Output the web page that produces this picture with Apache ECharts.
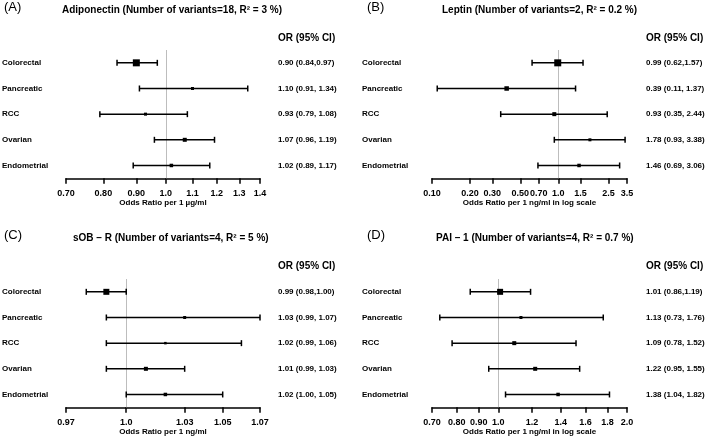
<!DOCTYPE html>
<html>
<head>
<meta charset="utf-8">
<script src="https://cdn.jsdelivr.net/npm/echarts@6/dist/echarts.min.js"></script>
<style>html,body{margin:0;padding:0;background:#fff}#c{width:709px;height:440px}</style>
</head>
<body>
<div id="c"></div>
<script>
// ---------- DATA ----------
const outcomes = ['Colorectal', 'Pancreatic', 'RCC', 'Ovarian', 'Endometrial'];

const adipoEst = [0.90, 1.10, 0.93, 1.07, 1.02];
const adipoLo  = [0.84, 0.91, 0.79, 0.96, 0.89];
const adipoHi  = [0.97, 1.34, 1.08, 1.19, 1.17];
const adipoText = ['0.90 (0.84,0.97)', '1.10 (0.91, 1.34)', '0.93 (0.79, 1.08)', '1.07 (0.96, 1.19)', '1.02 (0.89, 1.17)'];
const adipoTicks = [0.70, 0.80, 0.90, 1.0, 1.1, 1.2, 1.3, 1.4];
const adipoTickLabels = ['0.70', '0.80', '0.90', '1.0', '1.1', '1.2', '1.3', '1.4'];

const leptinEst = [0.99, 0.39, 0.93, 1.78, 1.46];
const leptinLo  = [0.62, 0.11, 0.35, 0.93, 0.69];
const leptinHi  = [1.57, 1.37, 2.44, 3.38, 3.06];
const leptinText = ['0.99 (0.62,1.57)', '0.39 (0.11, 1.37)', '0.93 (0.35, 2.44)', '1.78 (0.93, 3.38)', '1.46 (0.69, 3.06)'];
const leptinTicks = [0.10, 0.20, 0.30, 0.50, 0.70, 1.0, 1.5, 2.5, 3.5];
const leptinTickLabels = ['0.10', '0.20', '0.30', '0.50', '0.70', '1.0', '1.5', '2.5', '3.5'];

const sobrEst = [0.99, 1.03, 1.02, 1.01, 1.02];
const sobrLo  = [0.98, 0.99, 0.99, 0.99, 1.00];
const sobrHi  = [1.00, 1.07, 1.06, 1.03, 1.05];
const sobrText = ['0.99 (0.98,1.00)', '1.03 (0.99, 1.07)', '1.02 (0.99, 1.06)', '1.01 (0.99, 1.03)', '1.02 (1.00, 1.05)'];
const sobrTicks = [0.97, 1.0, 1.03, 1.05, 1.07];
const sobrTickLabels = ['0.97', '1.0', '1.03', '1.05', '1.07'];

const paiEst = [1.01, 1.13, 1.09, 1.22, 1.38];
const paiLo  = [0.86, 0.73, 0.78, 0.95, 1.04];
const paiHi  = [1.19, 1.76, 1.52, 1.55, 1.82];
const paiText = ['1.01 (0.86,1.19)', '1.13 (0.73, 1.76)', '1.09 (0.78, 1.52)', '1.22 (0.95, 1.55)', '1.38 (1.04, 1.82)'];
const paiTicks = [0.70, 0.80, 0.90, 1.0, 1.2, 1.4, 1.6, 1.8, 2.0];
const paiTickLabels = ['0.70', '0.80', '0.90', '1.0', '1.2', '1.4', '1.6', '1.8', '2.0'];

const panelLetters = ['(A)', '(B)', '(C)', '(D)'];
const panelTitles = [
  'Adiponectin (Number of variants=18, R\u00B2 = 3 %)',
  'Leptin (Number of variants=2, R\u00B2 = 0.2 %)',
  'sOB \u2013 R (Number of variants=4, R\u00B2 = 5 %)',
  'PAI \u2013 1 (Number of variants=4, R\u00B2 = 0.7 %)'
];
const axisNames = ['Odds Ratio per 1 \u00B5g/ml', 'Odds Ratio per 1 ng/ml in log scale', 'Odds Ratio per 1 ng/ml', 'Odds Ratio per 1 ng/ml in log scale'];
const headerText = 'OR (95% CI)';

// ---------- STYLE / LAYOUT ----------
const boxA = [7, 3, 3, 4, 3.5];
const boxB = [7, 4.5, 4, 3, 3.5];
const boxC = [6, 3, 2.5, 4, 3.5];
const boxD = [6, 3, 4, 4, 3.5];

const FONT = "'Liberation Sans', Arial, Helvetica, sans-serif";
const layout = [
  {left: 66, width: 194, top: 50, labelX: 2, valX: 278, titleX: 62, letterX: 4, y0: 0},
  {left: 432, width: 195, top: 50, labelX: 362, valX: 646, titleX: 442, letterX: 367, y0: 0},
  {left: 66, width: 194, top: 279, labelX: 2, valX: 278, titleX: 73, letterX: 4, y0: 228},
  {left: 432, width: 195, top: 279, labelX: 362, valX: 646, titleX: 436, letterX: 367, y0: 228}
];
const gridH = 128.3;

const panels = [
  {est: adipoEst, lo: adipoLo, hi: adipoHi, text: adipoText, ticks: adipoTicks, tickLabels: adipoTickLabels, box: boxA},
  {est: leptinEst, lo: leptinLo, hi: leptinHi, text: leptinText, ticks: leptinTicks, tickLabels: leptinTickLabels, box: boxB},
  {est: sobrEst, lo: sobrLo, hi: sobrHi, text: sobrText, ticks: sobrTicks, tickLabels: sobrTickLabels, box: boxC},
  {est: paiEst, lo: paiLo, hi: paiHi, text: paiText, ticks: paiTicks, tickLabels: paiTickLabels, box: boxD}
];

const grids = [], xAxes = [], yAxes = [], series = [], graphics = [];

panels.forEach((p, i) => {
  const L = layout[i];
  grids.push({left: L.left, width: L.width, top: L.top, height: gridH, containLabel: false, outerBoundsMode: 'none'});
  const tv = p.ticks.map(Math.log);
  xAxes.push({
    gridIndex: i, type: 'value',
    min: tv[0], max: tv[tv.length - 1],
    axisLine: {show: true, onZero: false, lineStyle: {color: '#000', width: 1.5}},
    axisTick: {show: true, customValues: tv, length: 5.5, inside: false, lineStyle: {color: '#000', width: 1.5}},
    axisLabel: {
      customValues: tv, color: '#000', fontSize: 9, fontWeight: 'bold', fontFamily: FONT, margin: 11,
      formatter: function (v) {
        let best = 0, d = Infinity;
        tv.forEach((t, k) => { if (Math.abs(t - v) < d) { d = Math.abs(t - v); best = k; } });
        return p.tickLabels[best];
      }
    },
    splitLine: {show: false},
    name: axisNames[i], nameLocation: 'middle', nameGap: 20,
    nameTextStyle: {color: '#000', fontSize: 8, fontWeight: 'bold', fontFamily: FONT}
  });
  yAxes.push({
    gridIndex: i, type: 'category', data: outcomes, inverse: true, position: 'left',
    axisLine: {show: false}, axisTick: {show: false}, splitLine: {show: false},
    axisLabel: {align: 'left', margin: L.left - L.labelX, color: '#000', fontSize: 8, fontWeight: 'bold', fontFamily: FONT}
  });
  yAxes.push({
    gridIndex: i, type: 'category', data: outcomes, inverse: true, position: 'right',
    axisLine: {show: false}, axisTick: {show: false}, splitLine: {show: false},
    axisLabel: {
      align: 'left', margin: L.valX - (L.left + L.width), color: '#000', fontSize: 8, fontWeight: 'bold', fontFamily: FONT,
      formatter: function (v, idx) { return p.text[idx]; }
    }
  });
  series.push({
    type: 'custom', xAxisIndex: i, yAxisIndex: 2 * i, z: 3,
    encode: {x: [1, 2, 3], y: 0},
    data: outcomes.map((o, k) => [k, Math.log(p.est[k]), Math.log(p.lo[k]), Math.log(p.hi[k]), p.box[k]]),
    renderItem: function (params, api) {
      const yv = api.value(0);
      const pe = api.coord([api.value(1), yv]);
      const pl = api.coord([api.value(2), yv]);
      const ph = api.coord([api.value(3), yv]);
      const s = api.value(4);
      const cap = 3;
      const st = {stroke: '#000', lineWidth: 1.5};
      return {type: 'group', children: [
        {type: 'line', shape: {x1: pl[0], y1: pl[1], x2: ph[0], y2: ph[1]}, style: st},
        {type: 'line', shape: {x1: pl[0], y1: pl[1] - cap, x2: pl[0], y2: pl[1] + cap}, style: st},
        {type: 'line', shape: {x1: ph[0], y1: ph[1] - cap, x2: ph[0], y2: ph[1] + cap}, style: st},
        {type: 'rect', shape: {x: pe[0] - s / 2, y: pe[1] - s / 2, width: s, height: s}, style: {fill: '#000'}}
      ]};
    },
    markLine: {
      silent: true, z: 1, symbol: 'none', animation: false,
      label: {show: false},
      lineStyle: {color: '#bdbdbd', width: 1, type: 'solid'},
      data: [{xAxis: 0}]
    }
  });
  graphics.push({type: 'text', left: L.letterX, top: L.y0 + 1, style: {text: panelLetters[i], fontSize: 13, fontFamily: FONT, fill: '#000'}});
  graphics.push({type: 'text', left: L.titleX, top: L.y0 + 5, style: {text: panelTitles[i], fontSize: 10, fontWeight: 'bold', fontFamily: FONT, fill: '#000'}});
  graphics.push({type: 'text', left: L.valX, top: L.y0 + 33, style: {text: headerText, fontSize: 10, fontWeight: 'bold', fontFamily: FONT, fill: '#000'}});
});

const chart = echarts.init(document.getElementById('c'), null, {renderer: 'canvas'});
chart.setOption({
  animation: false,
  backgroundColor: '#fff',
  grid: grids, xAxis: xAxes, yAxis: yAxes, series: series, graphic: graphics
});
</script>
</body>
</html>
